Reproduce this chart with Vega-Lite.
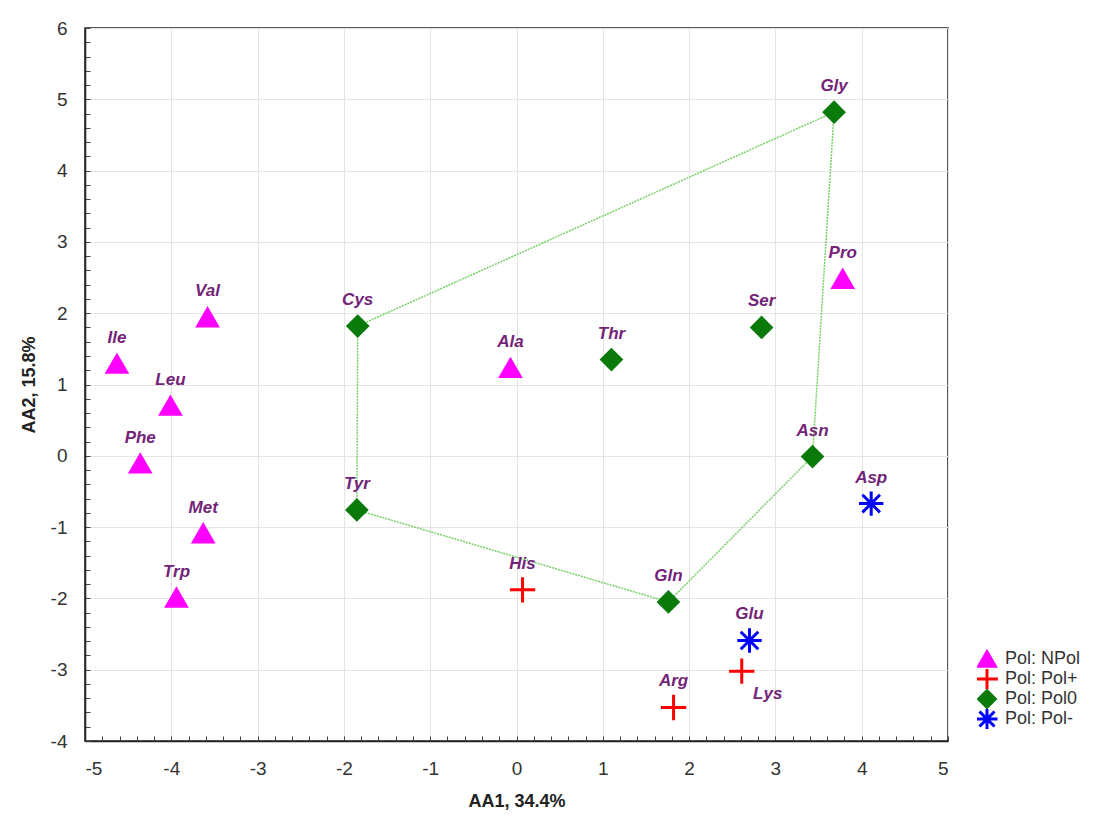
{
  "$schema": "https://vega.github.io/schema/vega-lite/v6.json",
  "autosize": "none",
  "width": 863,
  "height": 713,
  "padding": {"left": 85, "top": 28, "right": 170, "bottom": 81},
  "background": "white",
  "config": {
    "view": {"stroke": "#222", "strokeWidth": 1.5},
    "font": "Liberation Sans"
  },
  "datasets": {
    "pts": [
      {"name": "Gly", "AA1": 3.68, "AA2": 4.82, "Pol": "Pol: Pol0"},
      {"name": "Pro", "AA1": 3.78, "AA2": 2.48, "Pol": "Pol: NPol"},
      {"name": "Ser", "AA1": 2.84, "AA2": 1.80, "Pol": "Pol: Pol0"},
      {"name": "Cys", "AA1": -1.84, "AA2": 1.82, "Pol": "Pol: Pol0"},
      {"name": "Ala", "AA1": -0.07, "AA2": 1.23, "Pol": "Pol: NPol"},
      {"name": "Thr", "AA1": 1.10, "AA2": 1.35, "Pol": "Pol: Pol0"},
      {"name": "Asn", "AA1": 3.43, "AA2": -0.01, "Pol": "Pol: Pol0"},
      {"name": "Asp", "AA1": 4.11, "AA2": -0.67, "Pol": "Pol: Pol-"},
      {"name": "Tyr", "AA1": -1.85, "AA2": -0.76, "Pol": "Pol: Pol0"},
      {"name": "His", "AA1": 0.07, "AA2": -1.88, "Pol": "Pol: Pol+"},
      {"name": "Gln", "AA1": 1.76, "AA2": -2.05, "Pol": "Pol: Pol0"},
      {"name": "Glu", "AA1": 2.70, "AA2": -2.59, "Pol": "Pol: Pol-"},
      {"name": "Lys", "AA1": 2.61, "AA2": -3.02, "Pol": "Pol: Pol+"},
      {"name": "Arg", "AA1": 1.82, "AA2": -3.53, "Pol": "Pol: Pol+"},
      {"name": "Val", "AA1": -3.58, "AA2": 1.94, "Pol": "Pol: NPol"},
      {"name": "Ile", "AA1": -4.63, "AA2": 1.29, "Pol": "Pol: NPol"},
      {"name": "Leu", "AA1": -4.01, "AA2": 0.70, "Pol": "Pol: NPol"},
      {"name": "Phe", "AA1": -4.36, "AA2": -0.11, "Pol": "Pol: NPol"},
      {"name": "Met", "AA1": -3.63, "AA2": -1.09, "Pol": "Pol: NPol"},
      {"name": "Trp", "AA1": -3.94, "AA2": -1.99, "Pol": "Pol: NPol"}
    ],
    "hull": [
      {"seq": 1, "name": "Gly", "AA1": 3.68, "AA2": 4.82},
      {"seq": 2, "name": "Asn", "AA1": 3.43, "AA2": -0.01},
      {"seq": 3, "name": "Gln", "AA1": 1.76, "AA2": -2.05},
      {"seq": 4, "name": "Tyr", "AA1": -1.85, "AA2": -0.76},
      {"seq": 5, "name": "Cys", "AA1": -1.84, "AA2": 1.82},
      {"seq": 6, "name": "Gly", "AA1": 3.68, "AA2": 4.82}
    ]
  },
  "encoding": {
    "x": {
      "field": "AA1", "type": "quantitative",
      "scale": {"domain": [-5, 5], "nice": false, "zero": false},
      "axis": {
        "title": "AA1,  34.4%",
        "titleFont": "Liberation Sans",
        "titleFontSize": 18, "titleFontWeight": "bold", "titleColor": "#222",
        "titlePadding": 14,
        "values": [-5,-4.8,-4.6,-4.4,-4.2,-4,-3.8,-3.6,-3.4,-3.2,-3,-2.8,-2.6,-2.4,-2.2,-2,-1.8,-1.6,-1.4,-1.2,-1,-0.8,-0.6,-0.4,-0.2,0,0.2,0.4,0.6,0.8,1,1.2,1.4,1.6,1.8,2,2.2,2.4,2.6,2.8,3,3.2,3.4,3.6,3.8,4,4.2,4.4,4.6,4.8,5],
        "labelExpr": "datum.value % 1 === 0 ? '' + datum.value : ''",
        "labelFontSize": 19, "labelColor": "#333", "labelPadding": 23,
        "tickSize": -5,
        "tickColor": "#444",
        "gridColor": {"condition": {"test": "datum.value % 1 === 0", "value": "#e4e4e4"}, "value": "transparent"},
        "domainColor": "#222", "domainWidth": 1.5
      }
    },
    "y": {
      "field": "AA2", "type": "quantitative",
      "scale": {"domain": [-4, 6], "nice": false, "zero": false},
      "axis": {
        "title": "AA2,  15.8%",
        "titleFont": "Liberation Sans",
        "titleFontSize": 18, "titleFontWeight": "bold", "titleColor": "#222",
        "titlePadding": 12,
        "values": [-4,-3.8,-3.6,-3.4,-3.2,-3,-2.8,-2.6,-2.4,-2.2,-2,-1.8,-1.6,-1.4,-1.2,-1,-0.8,-0.6,-0.4,-0.2,0,0.2,0.4,0.6,0.8,1,1.2,1.4,1.6,1.8,2,2.2,2.4,2.6,2.8,3,3.2,3.4,3.6,3.8,4,4.2,4.4,4.6,4.8,5,5.2,5.4,5.6,5.8,6],
        "labelExpr": "datum.value % 1 === 0 ? '' + datum.value : ''",
        "labelFontSize": 19, "labelColor": "#333", "labelPadding": 23,
        "tickSize": -5,
        "tickColor": "#444",
        "gridColor": {"condition": {"test": "datum.value % 1 === 0", "value": "#e4e4e4"}, "value": "transparent"},
        "domainColor": "#222", "domainWidth": 1.5
      }
    }
  },
  "layer": [
    {
      "data": {"name": "hull"},
      "mark": {"type": "line", "color": "#77d066", "strokeWidth": 1.5, "strokeDash": [2, 1]},
      "encoding": {"order": {"field": "seq", "type": "quantitative"}}
    },
    {
      "data": {"name": "pts"},
      "mark": {"type": "point", "filled": true, "strokeWidth": 3, "opacity": 1, "size": 380},
      "encoding": {
        "shape": {
          "field": "Pol", "type": "nominal",
          "scale": {
            "domain": ["Pol: NPol", "Pol: Pol+", "Pol: Pol0", "Pol: Pol-"],
            "range": ["triangle-up", "M-1.3,0L1.3,0M0,-1.3L0,1.3", "diamond", "M-1.25,0L1.25,0M0,-1.25L0,1.25M-0.9,-0.9L0.9,0.9M-0.9,0.9L0.9,-0.9"]
          },
          "legend": {
            "title": null, "orient": "none", "legendX": 892, "legendY": 621,
            "labelFontSize": 18, "labelColor": "#333", "symbolSize": 280,
            "rowPadding": 0, "clipHeight": 20, "labelOffset": 8, "symbolStrokeWidth": 3
          }
        },
        "fill": {
          "field": "Pol", "type": "nominal",
          "scale": {"domain": ["Pol: NPol", "Pol: Pol+", "Pol: Pol0", "Pol: Pol-"], "range": ["#ff00ff", "#ff0000", "#0a7a0a", "#0000ff"]}
        },
        "stroke": {
          "field": "Pol", "type": "nominal",
          "scale": {"domain": ["Pol: NPol", "Pol: Pol+", "Pol: Pol0", "Pol: Pol-"], "range": ["#ff00ff", "#ff0000", "#0a7a0a", "#0000ff"]}
        }
      }
    },
    {
      "data": {"name": "pts"},
      "transform": [{"filter": "datum.name !== 'Lys'"}],
      "mark": {"type": "text", "dy": -26, "fontSize": 17, "fontStyle": "italic", "fontWeight": "bold", "font": "Liberation Sans", "color": "#732478", "baseline": "middle"},
      "encoding": {"text": {"field": "name"}}
    },
    {
      "data": {"name": "pts"},
      "transform": [{"filter": "datum.name === 'Lys'"}],
      "mark": {"type": "text", "dx": 26, "dy": 23, "fontSize": 17, "fontStyle": "italic", "fontWeight": "bold", "font": "Liberation Sans", "color": "#732478", "baseline": "middle"},
      "encoding": {"text": {"field": "name"}}
    }
  ]
}
